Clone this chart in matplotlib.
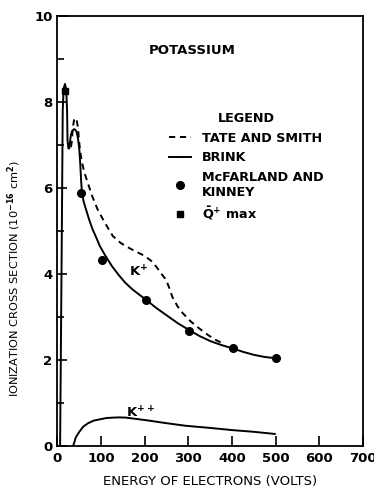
import numpy as np
import matplotlib
matplotlib.use('Agg')
import matplotlib.pyplot as plt
from matplotlib.lines import Line2D

plt.rcParams['font.family'] = ['DejaVu Sans']
plt.rcParams['font.weight'] = 'bold'
plt.rcParams['mathtext.fontset'] = 'dejavusans'
plt.rcParams['mathtext.default'] = 'bf'

# Brink, K+ (solid)
brink_x = [6, 10, 12, 14, 17, 20, 22, 23, 25, 27, 29, 31, 34, 38, 41, 44, 47, 50, 52, 54, 56,
           60, 66, 73, 80, 90, 97, 110, 125, 140, 155, 172, 190, 203, 225, 250, 275, 301,
           325, 350, 375, 401, 425, 450, 475, 501]
brink_y = [0, 5.0, 7.8, 8.3, 8.42, 8.3, 7.8, 7.1, 6.92, 6.92, 7.1, 7.25, 7.33, 7.37, 7.35, 7.3,
           7.15, 6.9, 6.6, 6.2, 5.9, 5.68, 5.48, 5.25, 5.05, 4.82, 4.65, 4.42, 4.18, 3.98,
           3.8, 3.64, 3.5, 3.4, 3.22, 3.04, 2.86, 2.7, 2.56, 2.44, 2.35, 2.27, 2.19, 2.12,
           2.07, 2.04]

# Tate and Smith (dashed)
tate_x = [31, 33, 35, 38, 41, 44, 47, 49, 52, 56, 62, 70, 80, 92, 100, 115, 127, 145, 165,
          180, 200, 218, 230, 240, 249, 256, 263, 275, 287, 305, 324, 345, 362, 380]
tate_y = [6.95, 7.1, 7.4, 7.58, 7.63, 7.58, 7.4, 7.15, 6.85, 6.6, 6.35, 6.1, 5.8, 5.5, 5.35,
          5.08, 4.88, 4.72, 4.6, 4.52, 4.42, 4.28, 4.12, 3.98, 3.86, 3.68, 3.47, 3.25, 3.09,
          2.9, 2.74, 2.58, 2.47, 2.38]

# K++ (Brink)
kpp_x = [36, 42, 50, 59, 70, 83, 97, 112, 127, 142, 157, 180, 210, 250, 294, 350, 400, 450, 498]
kpp_y = [0, 0.2, 0.33, 0.45, 0.53, 0.59, 0.62, 0.65, 0.66, 0.665, 0.66, 0.63, 0.59, 0.53,
         0.47, 0.42, 0.37, 0.33, 0.28]

# McFarland and Kinney
mk_x = [55, 103, 203, 301, 401, 501]
mk_y = [5.88, 4.33, 3.4, 2.68, 2.27, 2.04]

# Q+ max
qmax_x = [17]
qmax_y = [8.25]

xticks = [0, 100, 200, 300, 400, 500, 600, 700]
yticks = [0, 2, 4, 6, 8, 10]

fs = 9.5
fig = plt.figure(figsize=(3.74, 4.87), dpi=100)
ax = fig.add_axes([0.1537, 0.0842, 0.8169, 0.8829])

lw = 1.4
dash = (0, (3.2, 2.4))
ax.plot(brink_x, brink_y, color='black', lw=lw)
ax.plot(tate_x, tate_y, color='black', lw=lw, linestyle=dash)
ax.plot(kpp_x, kpp_y, color='black', lw=lw)
ax.plot(mk_x, mk_y, 'o', color='black', ms=5.5)
ax.plot(qmax_x, qmax_y, 's', color='black', ms=5)

ax.set_xlim(0, 700)
ax.set_ylim(0, 10)
ax.set_xticks(xticks)
ax.set_yticks(yticks)
ax.set_yticks([1, 3, 5, 7, 9], minor=True)
ax.tick_params(axis='both', which='major', direction='in', length=7, width=1.2,
               labelsize=fs)
ax.tick_params(axis='x', which='major', pad=4.5)
ax.tick_params(axis='y', which='major', pad=3.5)
ax.tick_params(axis='y', which='minor', direction='in', length=5, width=1.2)
for s in ax.spines.values():
    s.set_linewidth(1.3)

ax.set_xlabel('ENERGY OF ELECTRONS (VOLTS)', fontsize=fs, labelpad=7)
ax.set_ylabel(r'IONIZATION CROSS SECTION (10$^{-16}$ cm$^{2}$)', fontsize=8.2)
ax.yaxis.set_label_coords(-0.113, 0.39)

ax.text(210, 9.2, 'POTASSIUM', fontsize=fs, va='center')
ax.text(163, 4.05, r'K$^{+}$', fontsize=fs, va='center')
ax.text(157, 0.78, r'K$^{++}$', fontsize=fs, va='center')

handles = [
    Line2D([], [], color='black', lw=lw, linestyle=dash),
    Line2D([], [], color='black', lw=lw),
    Line2D([], [], color='black', marker='o', ms=5.5, linestyle='none'),
    Line2D([], [], color='black', marker='s', ms=5, linestyle='none'),
]
labels = ['TATE AND SMITH', 'BRINK', 'McFARLAND AND\nKINNEY', r'$\bar{\rm Q}^{+}$ max']
leg = ax.legend(handles, labels, title='LEGEND', loc='upper left',
                bbox_to_anchor=(0.365, 0.776), frameon=False, fontsize=9.2,
                title_fontsize=9.2, handlelength=1.7, handletextpad=0.9,
                labelspacing=0.5, borderpad=0, borderaxespad=0)
leg.get_title().set_fontweight('bold')

fig.savefig('out.png', dpi=100)
